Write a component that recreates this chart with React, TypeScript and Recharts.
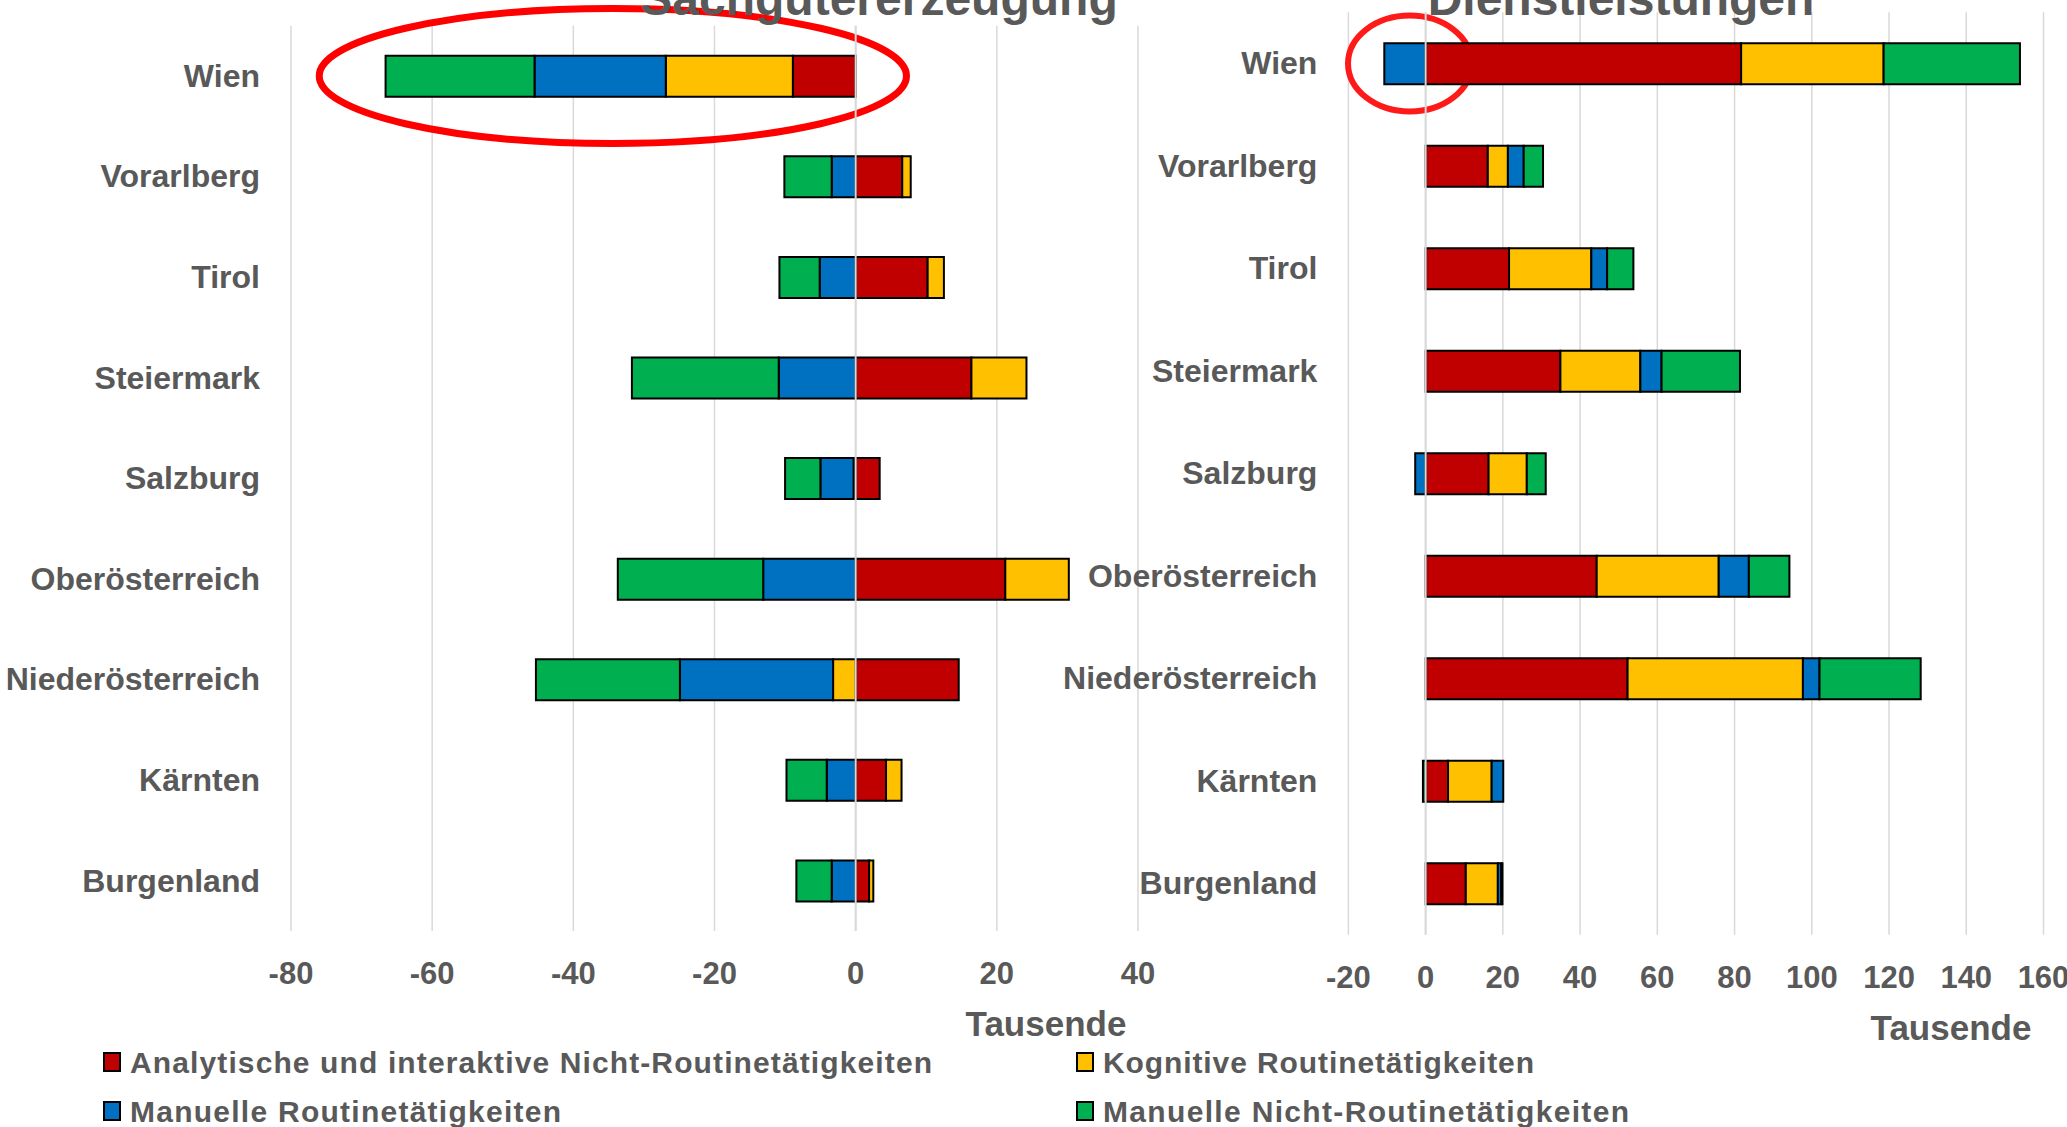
import React from 'react';
import { BarChart, Bar, XAxis, YAxis, CartesianGrid, ReferenceLine, ReferenceArea } from 'recharts';

// ---------- data ----------
const regions = ['Wien', 'Vorarlberg', 'Tirol', 'Steiermark', 'Salzburg', 'Oberösterreich', 'Niederösterreich', 'Kärnten', 'Burgenland'];

// Sachgütererzeugung (Tausende)
const sachAnalytisch = [-8.9, 6.6, 10.2, 16.4, 3.4, 21.2, 14.6, 4.3, 1.9];
const sachKognitiv = [-18.0, 1.2, 2.3, 7.8, -0.3, 9.0, -3.2, 2.2, 0.6];
const sachManuellRoutine = [-18.6, -3.4, -5.1, -10.9, -4.7, -13.1, -21.7, -4.1, -3.4];
const sachManuellNicht = [-21.1, -6.7, -5.7, -20.8, -5.0, -20.6, -20.4, -5.7, -5.0];

// Dienstleistungen (Tausende)
const dienstAnalytisch = [81.7, 16.1, 21.6, 34.9, 16.3, 44.3, 52.3, 5.8, 10.4];
const dienstKognitiv = [36.9, 5.2, 21.3, 20.7, 9.9, 31.6, 45.4, 11.3, 8.3];
const dienstManuellRoutine = [-10.7, 4.1, 4.1, 5.5, -2.7, 7.8, 4.3, 3.0, 0.9];
const dienstManuellNicht = [35.3, 5.0, 6.8, 20.3, 4.9, 10.5, 26.2, -0.7, 0.3];

const seriesKeys = ['analytisch', 'kognitiv', 'manuellRoutine', 'manuellNicht'];
const seriesNames = [
  'Analytische und interaktive Nicht-Routinetätigkeiten',
  'Kognitive Routinetätigkeiten',
  'Manuelle Routinetätigkeiten',
  'Manuelle Nicht-Routinetätigkeiten',
];
const seriesColors = ['#C00000', '#FFC000', '#0070C0', '#00B050'];

const sachTicks = [-80, -60, -40, -20, 0, 20, 40];
const dienstTicks = [-20, 0, 20, 40, 60, 80, 100, 120, 140, 160];

const titles = ['Sachgütererzeugung', 'Dienstleistungen'];
const unitLabel = 'Tausende';

// ---------- helpers ----------
const FONT = '"Liberation Sans", Arial, sans-serif';
const GRAY = '#595959';

function buildRows(a: number[], b: number[], c: number[], d: number[]) {
  return regions.map((r, i) => ({
    region: r,
    analytisch: a[i],
    kognitiv: b[i],
    manuellRoutine: c[i],
    manuellNicht: d[i],
  }));
}

const sachData = buildRows(sachAnalytisch, sachKognitiv, sachManuellRoutine, sachManuellNicht);
const dienstData = buildRows(dienstAnalytisch, dienstKognitiv, dienstManuellRoutine, dienstManuellNicht);

const CategoryTick = (props: any) => {
  const { x, y, payload } = props;
  return (
    <text x={x - 31} y={y} dy="0.34em" textAnchor="end" fill={GRAY} fontSize={32} fontWeight="bold" fontFamily={FONT}>
      {payload.value}
    </text>
  );
};

const NumTick = (props: any) => {
  const { x, y, payload } = props;
  return (
    <text x={x} y={y + 42} dy="0.36em" textAnchor="middle" fill={GRAY} fontSize={31} fontWeight="bold" fontFamily={FONT}>
      {payload.value}
    </text>
  );
};

const makeEllipse = (ry: number, color: string, sw: number) => (p: any) => (
  <ellipse
    cx={p.x + p.width / 2}
    cy={p.y + p.height / 2}
    rx={p.width / 2}
    ry={ry}
    fill="none"
    stroke={color}
    strokeWidth={sw}
  />
);

function renderBars() {
  return seriesKeys.map((k, i) => (
    <Bar
      key={k}
      dataKey={k}
      name={seriesNames[i]}
      stackId="s"
      fill={seriesColors[i]}
      stroke="#000000"
      strokeWidth={2}
      barSize={41}
      isAnimationActive={false}
    />
  ));
}

export default function App() {
  return (
    <div style={{ position: 'absolute', left: 0, top: 0, width: 2067, height: 1127, overflow: 'hidden', background: '#ffffff' }}>
      {/* Left chart: Sachgütererzeugung */}
      <div style={{ position: 'absolute', left: 0, top: 0 }}>
        <BarChart
          width={1180}
          height={1127}
          data={sachData}
          layout="vertical"
          stackOffset="sign"
          margin={{ top: 25.7, right: 42, left: 0, bottom: 136 }}
        >
          <CartesianGrid horizontal={false} stroke="#d9d9d9" strokeWidth={1.5} />
          <XAxis
            type="number"
            domain={[-80, 40]}
            ticks={sachTicks}
            interval={0}
            axisLine={false}
            tickLine={false}
            tickSize={0}
            tickMargin={0}
            height={60}
            tick={<NumTick />}
          />
          <YAxis
            type="category"
            dataKey="region"
            width={291}
            axisLine={false}
            tickLine={false}
            tickSize={0}
            tickMargin={0}
            interval={0}
            tick={<CategoryTick />}
          />
          {renderBars()}
          <ReferenceLine x={0} stroke="#d9d9d9" strokeWidth={2} />
          <ReferenceArea
            x1={-76}
            x2={7.2}
            y1="Wien"
            y2="Wien"
            ifOverflow="visible"
            shape={makeEllipse(67.5, '#FF0000', 7)}
          />
        </BarChart>
      </div>

      {/* Right chart: Dienstleistungen */}
      <div style={{ position: 'absolute', left: 1040, top: 0 }}>
        <BarChart
          width={1027}
          height={1127}
          data={dienstData}
          layout="vertical"
          stackOffset="sign"
          margin={{ top: 12.25, right: 23.5, left: 0, bottom: 132.25 }}
        >
          <CartesianGrid horizontal={false} stroke="#d9d9d9" strokeWidth={1.5} />
          <XAxis
            type="number"
            domain={[-20, 160]}
            ticks={dienstTicks}
            interval={0}
            axisLine={false}
            tickLine={false}
            tickSize={0}
            tickMargin={0}
            height={60}
            tick={<NumTick />}
          />
          <YAxis
            type="category"
            dataKey="region"
            width={308.4}
            axisLine={false}
            tickLine={false}
            tickSize={0}
            tickMargin={0}
            interval={0}
            tick={<CategoryTick />}
          />
          {renderBars()}
          <ReferenceLine x={0} stroke="#d9d9d9" strokeWidth={2} />
          <ReferenceArea
            x1={-20.1}
            x2={11.9}
            y1="Wien"
            y2="Wien"
            ifOverflow="visible"
            shape={makeEllipse(48, '#FF1A1A', 6)}
          />
        </BarChart>
      </div>

      {/* Titles, unit labels and legend */}
      <svg width={2067} height={1127} style={{ position: 'absolute', left: 0, top: 0, pointerEvents: 'none' }}>
        <text x={879} y={15} textAnchor="middle" fill={GRAY} fontSize={48} fontWeight="bold" fontFamily={FONT}>
          {titles[0]}
        </text>
        <text x={1621} y={15} textAnchor="middle" fill={GRAY} fontSize={48} fontWeight="bold" fontFamily={FONT}>
          {titles[1]}
        </text>
        <text x={1046} y={1023} dy="0.36em" textAnchor="middle" fill={GRAY} fontSize={35} fontWeight="bold" fontFamily={FONT}>
          {unitLabel}
        </text>
        <text x={1951} y={1027} dy="0.36em" textAnchor="middle" fill={GRAY} fontSize={35} fontWeight="bold" fontFamily={FONT}>
          {unitLabel}
        </text>
        {[
          { i: 0, x: 104, y: 1062, w: 802 },
          { i: 1, x: 1077, y: 1062, w: 431 },
          { i: 2, x: 104, y: 1111, w: 431 },
          { i: 3, x: 1077, y: 1111, w: 526 },
        ].map((it) => (
          <g key={it.i}>
            <rect x={it.x} y={it.y - 9} width={16} height={18} fill={seriesColors[it.i]} stroke="#000" strokeWidth={2} />
            <text
              x={it.x + 26}
              y={it.y}
              dy="0.36em"
              fill={GRAY}
              fontSize={30}
              fontWeight="bold"
              fontFamily={FONT}
              textLength={it.w}
              lengthAdjust="spacing"
            >
              {seriesNames[it.i]}
            </text>
          </g>
        ))}
      </svg>
    </div>
  );
}
